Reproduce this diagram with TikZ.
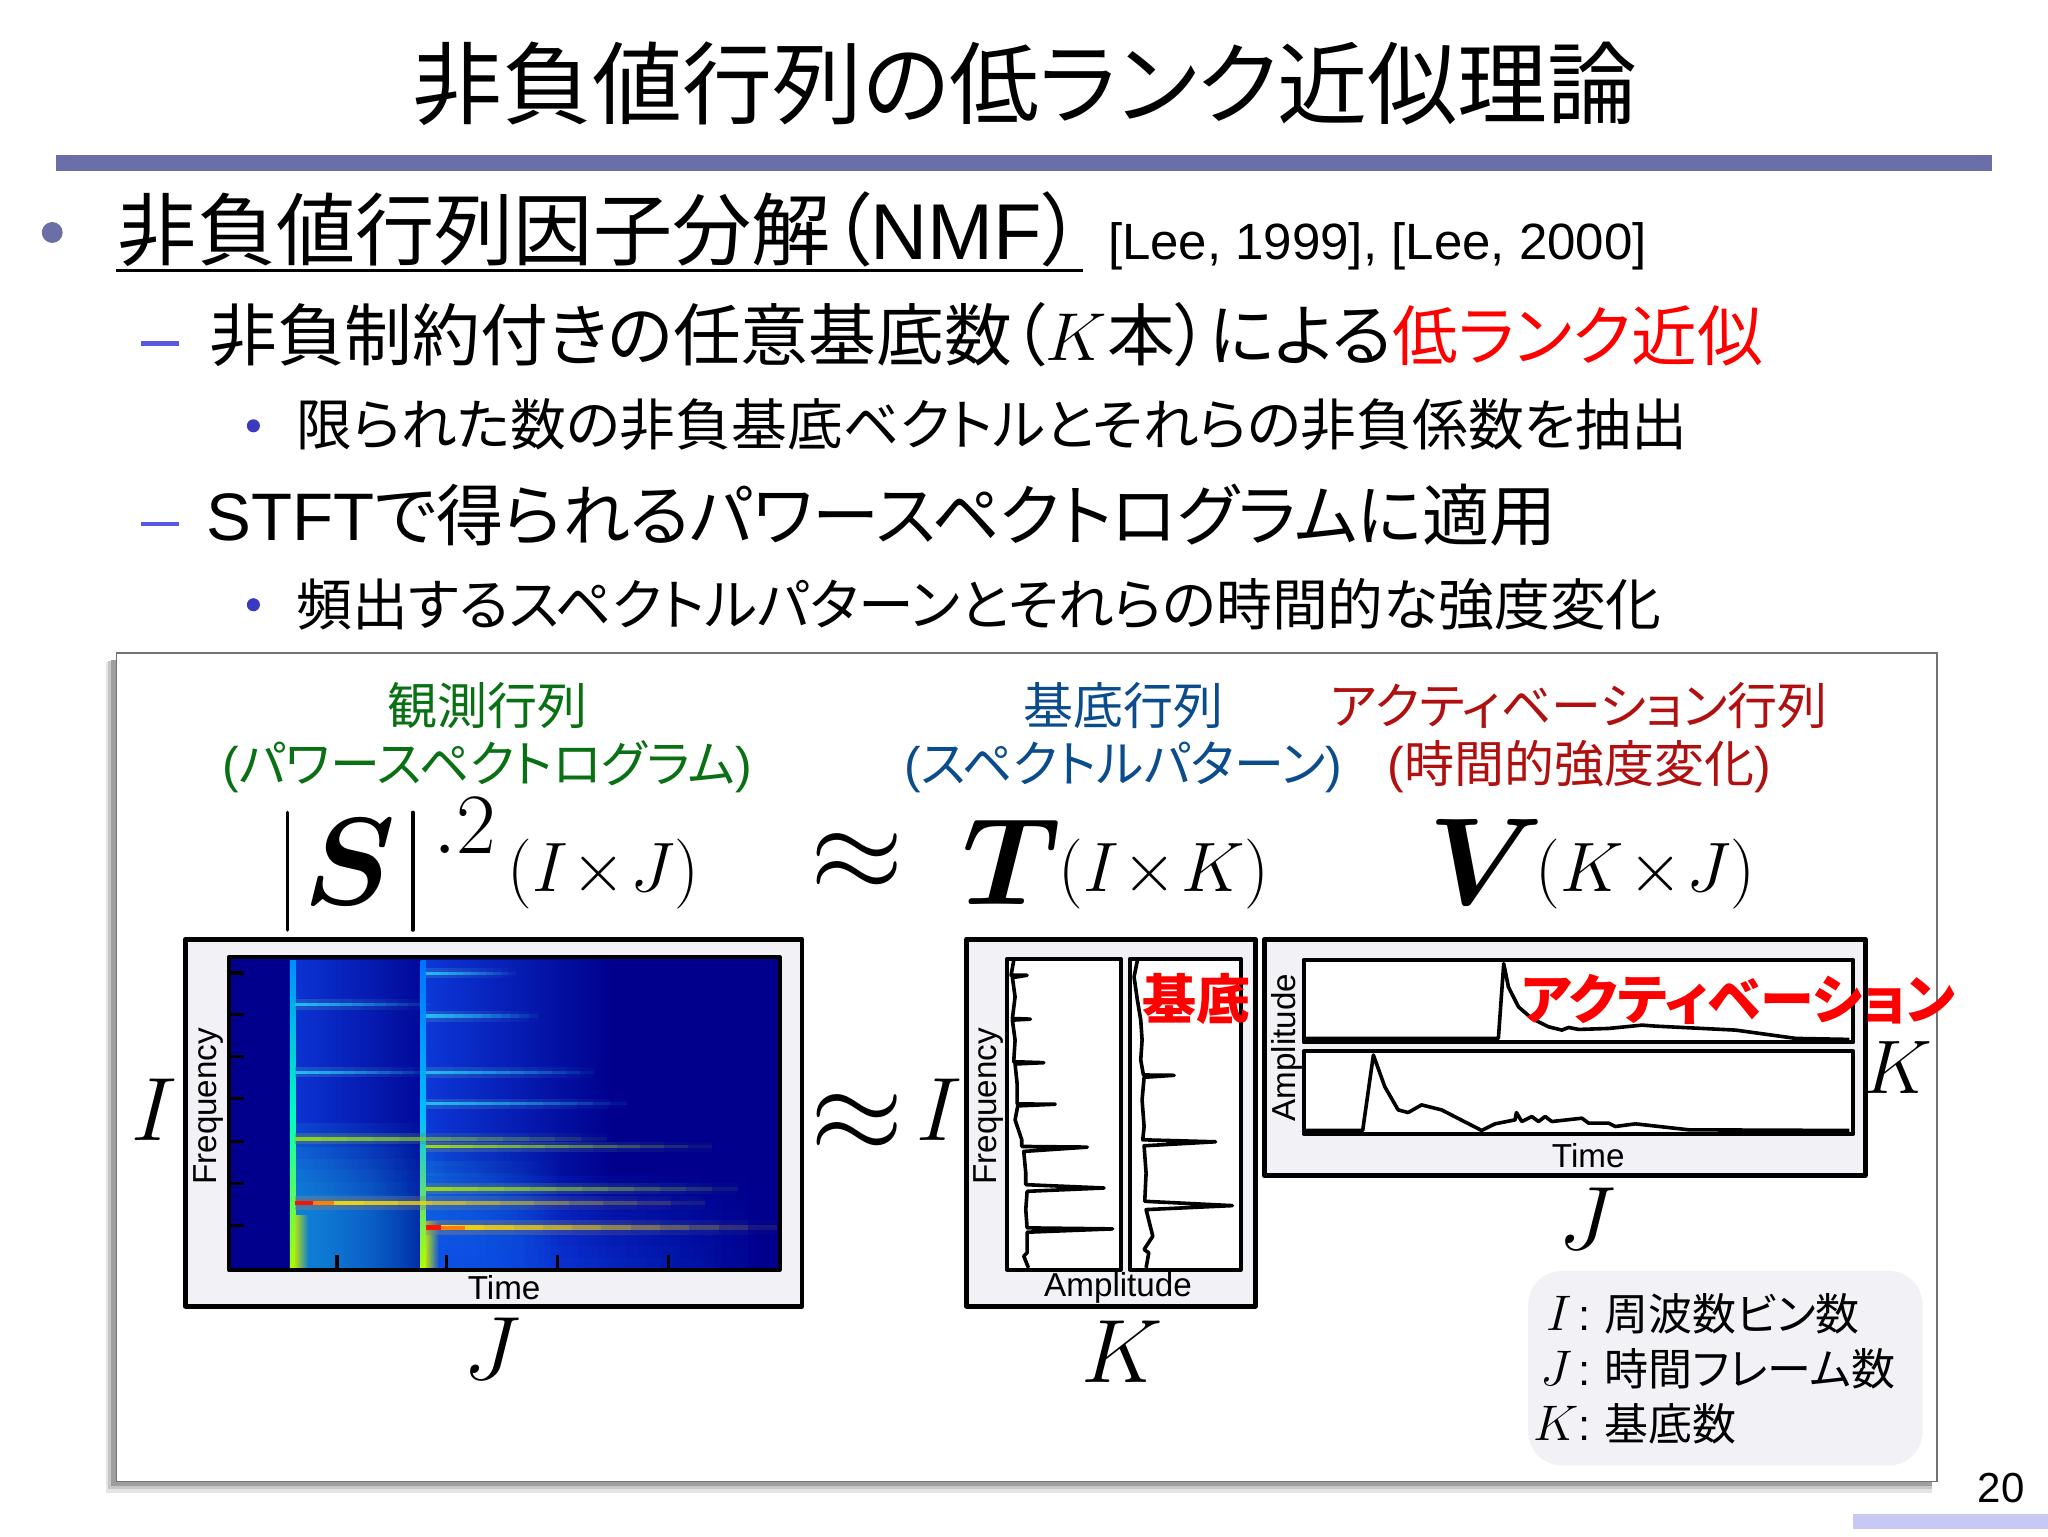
\RequirePackage{fix-cm}
\documentclass[tikz,border=0pt]{standalone}
\usepackage{amsmath}
\usepackage[no-math]{fontspec}
\usepackage{xcolor}
\usetikzlibrary{calc, fadings}
\setmainfont{Liberation Sans}
\newfontfamily\jp[RawFeature=+palt]{Noto Sans CJK JP}
\newcommand{\fsz}[1]{\fontsize{#1}{#1}\selectfont}
\definecolor{slideBar}{RGB}{107,111,168}
\definecolor{slideDash}{RGB}{90,90,224}
\definecolor{slideDot}{RGB}{58,58,192}
\definecolor{slideTab}{RGB}{200,200,245}
\definecolor{obsGreen}{RGB}{10,112,20}
\definecolor{baseBlue}{RGB}{11,76,140}
\definecolor{activRed}{RGB}{176,16,16}
\definecolor{plateGray}{RGB}{242,241,245}
\definecolor{specBase}{RGB}{0,0,140}
\definecolor{specGlow}{RGB}{16,70,235}
\newcommand{\harmonic}[5]{%
  \foreach \s in {0,...,11} {
    \pgfmathsetmacro{\coreOp}{1-\s/12}
    \pgfmathsetmacro{\haloOp}{0.45-0.45*\s/12}
    \fill[#4!40!specGlow, opacity=\haloOp] ({#1+\s*(#2-#1)/12},#3-3*#5) rectangle ({#1+(\s+1)*(#2-#1)/12},#3+3*#5);
    \fill[#4, opacity=\coreOp] ({#1+\s*(#2-#1)/12},#3-#5) rectangle ({#1+(\s+1)*(#2-#1)/12},#3+#5);
  }
}
\newcommand{\lowglow}[4]{%
  \foreach \k in {0,...,7}
    \fill[#4, path fading=east, opacity=0.2] (#1,#3+\k*9) rectangle (#2,974);
}
\begin{document}
\begin{tikzpicture}[
    x=0.653061pt, y=-0.653061pt,
    heading/.style={anchor=base, inner sep=0pt, font=\jp\fsz{45}},
    lead/.style={anchor=base west, inner sep=0pt, font=\fsz{39.6}},
    itemA/.style={anchor=base west, inner sep=0pt, font=\fsz{33.6}},
    itemB/.style={anchor=base west, inner sep=0pt, font=\fsz{27.9}},
    caption/.style={anchor=center, inner sep=0pt, align=center, font=\jp\fsz{25}},
    plotFrame/.style={draw=black, line width=2.4pt, fill=plateGray, line join=round},
    plotBox/.style={draw=black, line width=2pt, fill=white, line join=round},
    axisText/.style={inner sep=0pt, font=\fsz{16.6}},
    bigMath/.style={inner sep=0pt, font=\fsz{45}},
    sizeMath/.style={inner sep=0pt, font=\fsz{35}},
    trace/.style={draw=black, line width=1.8pt, line join=round},
    callout/.style={inner sep=0pt, text=red, font=\jp\bfseries\fsz{27}}
  ]
  \useasboundingbox (0,0) rectangle (1568,1176);
  \fill[white] (0,0) rectangle (1568,1176);

  \node[heading] (slideTitle) at (785,90) {非負値行列の低ランク近似理論};
  \fill[slideBar] (43,119) rectangle (1525,131);

  \fill[slideBar] (40,178) circle (8);
  \node[lead] (nmfLine) at (90,199) {{\jp 非負値行列因子分解（}NMF{\jp ）}};
  \draw[line width=1.5pt] (89,207) -- (829,207);
  \node[anchor=base west, inner sep=0pt, font=\fsz{25.5}] (leeRefs) at (848,199) {[Lee, 1999], [Lee, 2000]};

  \draw[slideDash, line width=2.2pt] (108,263) -- (137,263);
  \node[itemA, font=\fsz{33.9}] (lowRank) at (160,276) {{\jp 非負制約付きの任意基底数（}$K${\jp 本）による}{\jp\color{red}\fsz{32.8}低ランク近似}};
  \fill[slideDot] (194,326) circle (5);
  \node[itemB] (extract) at (227,341) {\jp 限られた数の非負基底ベクトルとそれらの非負係数を抽出};
  \draw[slideDash, line width=2.2pt] (108,401) -- (137,401);
  \node[itemA] (stft) at (158,414) {STFT{\jp で得られるパワースペクトログラムに適用}};
  \fill[slideDot] (194,463) circle (5);
  \node[itemB] (pattern) at (227,479) {\jp 頻出するスペクトルパターンとそれらの時間的な強度変化};

  \fill[black!10] (81,507) rectangle (1479,1143);
  \fill[black!22] (83,506) rectangle (1479,1140);
  \fill[black!38] (85,505) rectangle (1479,1138);
  \draw[black!55, line width=0.6pt, fill=white] (89,500) rectangle (1483,1134);

  \node[caption, text=obsGreen] (obsCaption) at (373,565) {観測行列\\[4pt]{\rmfamily(}パワースペクトログラム{\rmfamily)}};
  \node[caption, text=baseBlue] (baseCaption) at (860,565) {基底行列\\[4pt]{\rmfamily(}スペクトルパターン{\rmfamily)}};
  \node[caption, text=activRed] (activCaption) at (1209,565) {アクティベーション行列\\[4pt]{\rmfamily(}時間的強度変化{\rmfamily)}};

  \draw[line width=1.8pt, line cap=round] (220,622) -- (220,712);
  \draw[line width=1.8pt, line cap=round] (316,622) -- (316,712);
  \node[inner sep=0pt, font=\fsz{62}] (matS) at (268,660) {$\boldsymbol{S}$};
  \node[inner sep=0pt, font=\fsz{43}] (powerTwo) at (356,632) {$.2$};
  \node[sizeMath] (sizeS) at (462,669) {$(I\mskip1mu{\times}\mskip1mu J)$};
  \node[inner sep=0pt, font=\fsz{60}] (approxTop) at (656,660) {$\approx$};
  \node[inner sep=0pt, font=\fsz{62}] (matT) at (775,660) {$\boldsymbol{T}$};
  \node[sizeMath] (sizeT) at (891,669) {$(I\mskip1mu{\times}\mskip1mu K)$};
  \node[inner sep=0pt, font=\fsz{62}] (matV) at (1138,660) {$\boldsymbol{V}$};
  \node[sizeMath] (sizeV) at (1260,669) {$(K\mskip1mu{\times}\mskip1mu J)$};

  \draw[plotFrame] (142,719) rectangle (614,1000);
  \begin{scope}
    \clip (175,733) rectangle (597,972);
    \fill[specBase] (175,733) rectangle (597,972);
    \fill[specGlow, path fading=east, opacity=0.75] (225,735) rectangle (345,972);
    \fill[specGlow, path fading=east, opacity=0.8] (325,735) rectangle (470,972);
    \lowglow{225}{345}{860}{cyan!70!specGlow}
    \lowglow{325}{430}{880}{cyan!70!specGlow}
    \lowglow{325}{590}{900}{specGlow}
    \shade[bottom color=yellow!65!green, top color=cyan!55!blue, middle color=cyan!75!green] (222,735) rectangle (226.5,972);
    \shade[bottom color=yellow!70!green, top color=cyan!45!blue, middle color=cyan!75!blue] (322,735) rectangle (326,972);
    \fill[yellow!70!green, path fading=east] (226,930) rectangle (236,972);
    \fill[yellow!70!green, path fading=east] (326,935) rectangle (336,972);
    \foreach \xa/\xb/\ya/\hue/\lw in {
        226/330/769/cyan!85!white/1.4, 226/335/821/cyan!85!white/1.3,
        226/465/872/yellow!55!green/1.4, 226/540/921/yellow!80!orange/1.8,
        326/395/745/cyan!85!white/1.2, 326/412/778/cyan!85!white/1.4,
        326/455/821/cyan!85!white/1.4, 326/480/845/cyan!85!white/1.3,
        326/545/878/yellow!60!green/1.3, 326/565/910/yellow!60!green/1.5,
        326/595/940/yellow!75!orange/1.9}
      \harmonic{\xa}{\xb}{\ya}{\hue}{\lw};
    \fill[red!85!orange] (226,919.2) rectangle (240,922.8);
    \fill[orange] (240,919.5) rectangle (256,922.5);
    \fill[red!85!orange] (326,938.2) rectangle (338,941.8);
    \fill[orange] (338,938.5) rectangle (356,941.5);
  \end{scope}
  \draw[black, line width=2pt, line join=round] (175,733) rectangle (597,972);
  \foreach \ya in {745,777,809,841,874,906,938}
    \draw[line width=1.6pt] (175,\ya) -- (187,\ya);
  \foreach \xa in {258,342,427,512}
    \draw[line width=1.6pt] (\xa,972) -- (\xa,961);
  \node[axisText, rotate=90] (specFreq) at (160,847) {Frequency};
  \node[axisText] (specTime) at (386,986) {Time};
  \node[bigMath] (specI) at (118,850) {$I$};
  \node[bigMath] (specJ) at (377,1033) {$J$};
  \node[inner sep=0pt, font=\fsz{60}] (approxLow) at (656,860) {$\approx$};

  \draw[plotFrame] (740,719) rectangle (961,1000);
  \draw[plotBox] (771,734) rectangle (858,972);
  \draw[plotBox] (865,734) rectangle (950,972);
  \draw[plotFrame] (968,719) rectangle (1428,900);
  \draw[plotBox] (998,735) rectangle (1419,798);
  \draw[plotBox] (998,805) rectangle (1419,868);

  \begin{scope}[x=0.33423pt, y=-0.16620pt, shift={(470.1pt,-460.2pt)}]
    \draw[trace] plot coordinates {(110,120) (106,165) (130,165) (108,172) (112,230) (108,295) (135,297) (108,300) (112,360) (110,425) (155,428) (112,432) (115,490) (115,552) (172,553) (116,558) (112,600) (122,660) (122,680) (220,682) (125,695) (128,760) (128,795) (245,805) (130,815) (128,870) (130,925) (258,928) (130,938) (130,1000) (125,1010) (132,1045)};
    \draw[trace] plot coordinates {(295,120) (290,170) (295,240) (300,300) (302,360) (300,420) (304,465) (350,466) (305,472) (302,540) (305,620) (303,660) (412,666) (305,678) (308,760) (306,845) (437,858) (308,870) (318,950) (305,990) (312,1000) (308,1045)};
    \draw[trace] plot coordinates {(545,355) (835,355) (843,130) (850,200) (865,260) (885,295) (910,320) (930,330) (940,322) (955,328) (1000,325) (1050,315) (1070,318) (1190,330) (1280,355) (1360,358)};
    \draw[trace] plot coordinates {(545,632) (632,632) (648,405) (665,500) (685,570) (700,578) (720,555) (750,570) (810,632) (830,612) (860,600) (862,578) (870,605) (885,590) (895,605) (905,590) (915,605) (960,595) (970,610) (1000,610) (1010,620) (1040,612) (1120,630) (1360,632)};
  \end{scope}

  \node[axisText, rotate=90] (baseFreq) at (757,847) {Frequency};
  \node[axisText] (baseAmp) at (856,986) {Amplitude};
  \node[axisText, rotate=90] (activAmp) at (985,802) {Amplitude};
  \node[axisText] (activTime) at (1216,885) {Time};
  \node[bigMath] (baseI) at (719,850) {$I$};
  \node[bigMath] (baseK) at (859,1035) {$K$};
  \node[bigMath, font=\fsz{38}] (activK) at (1453,817) {$K$};
  \node[bigMath] (activJ) at (1215,933) {$J$};
  \node[callout] (baseLabel) at (916,765) {基底};
  \node[callout] (activLabel) at (1331,765) {アクティベーション};

  \fill[plateGray, rounded corners=17pt] (1170,973) rectangle (1472,1122);
  \node[anchor=base east, inner sep=0pt, font=\fsz{21.8}] (legI) at (1218,1019) {{\fsz{25}$I$}\hspace{3pt}:};
  \node[anchor=base west, inner sep=0pt, font=\jp\fsz{22}] (legIText) at (1228,1019) {周波数ビン数};
  \node[anchor=base east, inner sep=0pt, font=\fsz{21.8}] (legJ) at (1218,1061) {{\fsz{25}$J$}\hspace{3pt}:};
  \node[anchor=base west, inner sep=0pt, font=\jp\fsz{22}] (legJText) at (1228,1061) {時間フレーム数};
  \node[anchor=base east, inner sep=0pt, font=\fsz{21.8}] (legK) at (1218,1103) {{\fsz{25}$K$}:};
  \node[anchor=base west, inner sep=0pt, font=\jp\fsz{22}] (legKText) at (1228,1103) {基底数};

  \fill[slideTab] (1419,1159) rectangle (1568,1171);
  \node[inner sep=0pt, font=\fsz{21}] (pageNo) at (1532,1139) {20};
\end{tikzpicture}
\end{document}
